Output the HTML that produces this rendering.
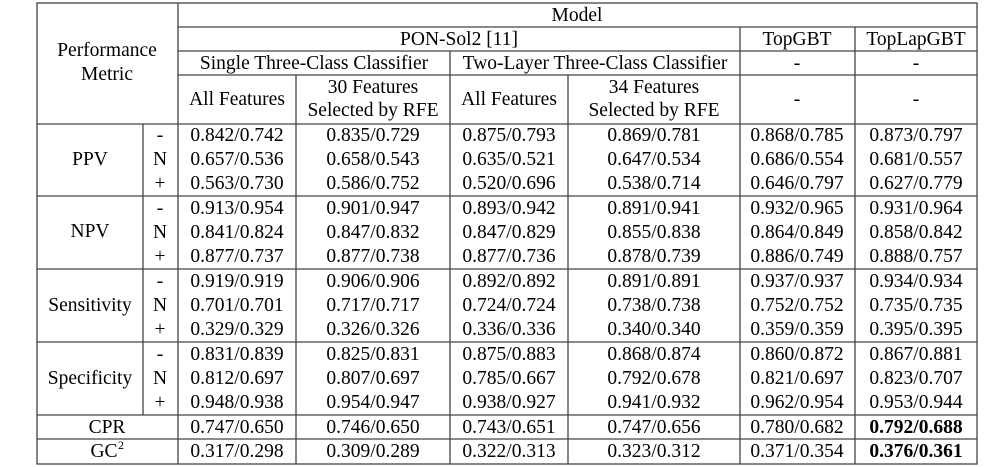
<!DOCTYPE html>
<html><head><meta charset="utf-8"><style>
html,body{margin:0;padding:0;background:#fff;width:1006px;height:467px;overflow:hidden}
svg{display:block}
</style></head><body>
<svg width="1006" height="467" viewBox="0 0 1006 467" xmlns="http://www.w3.org/2000/svg">
<g stroke="#444" stroke-width="1.3" fill="none">
<rect x="37" y="3" width="940" height="461"/>
<line x1="178" y1="27" x2="977" y2="27"/>
<line x1="178" y1="51" x2="977" y2="51"/>
<line x1="178" y1="75" x2="977" y2="75"/>
<line x1="37" y1="124" x2="977" y2="124"/>
<line x1="37" y1="196" x2="977" y2="196"/>
<line x1="37" y1="269" x2="977" y2="269"/>
<line x1="37" y1="342" x2="977" y2="342"/>
<line x1="37" y1="415" x2="977" y2="415"/>
<line x1="37" y1="439" x2="977" y2="439"/>
<line x1="178" y1="3" x2="178" y2="464"/>
<line x1="143" y1="124" x2="143" y2="415"/>
<line x1="296" y1="75" x2="296" y2="464"/>
<line x1="450" y1="51" x2="450" y2="464"/>
<line x1="568" y1="75" x2="568" y2="464"/>
<line x1="740" y1="27" x2="740" y2="464"/>
<line x1="855" y1="27" x2="855" y2="464"/>
</g>
<g text-anchor="middle" font-family="'Liberation Serif','DejaVu Serif',serif" font-size="19.5" fill="#000">
<g transform="translate(0,6)">
<text x="577" y="15">Model</text>
<text x="107" y="50">Performance</text>
<text x="107" y="74">Metric</text>
<text x="459" y="39">PON-Sol2 [11]</text>
<text x="797" y="39">TopGBT</text>
<text x="916" y="39">TopLapGBT</text>
<text x="314" y="63">Single Three-Class Classifier</text>
<text x="595" y="63">Two-Layer Three-Class Classifier</text>
<text x="797" y="63">-</text>
<text x="916" y="63">-</text>
<text x="237" y="99">All Features</text>
<text x="373" y="87">30 Features</text>
<text x="373" y="110">Selected by RFE</text>
<text x="509" y="99">All Features</text>
<text x="654" y="87">34 Features</text>
<text x="654" y="110">Selected by RFE</text>
<text x="797" y="99">-</text>
<text x="916" y="99">-</text>

<text x="90" y="159">PPV</text>
<text x="90" y="231">NPV</text>
<text x="90" y="305">Sensitivity</text>
<text x="90" y="378">Specificity</text>
<text x="107" y="427">CPR</text>
<text x="104" y="451">GC</text>
<text x="121" y="443" font-size="12">2</text>

<text x="160" y="135">-</text><text x="160" y="159">N</text><text x="160" y="183">+</text>
<text x="160" y="208">-</text><text x="160" y="232">N</text><text x="160" y="256">+</text>
<text x="160" y="281">-</text><text x="160" y="305">N</text><text x="160" y="329">+</text>
<text x="160" y="354">-</text><text x="160" y="378">N</text><text x="160" y="402">+</text>

<text x="237" y="135">0.842/0.742</text><text x="373" y="135">0.835/0.729</text><text x="509" y="135">0.875/0.793</text><text x="654" y="135">0.869/0.781</text><text x="797" y="135">0.868/0.785</text><text x="916" y="135">0.873/0.797</text>
<text x="237" y="159">0.657/0.536</text><text x="373" y="159">0.658/0.543</text><text x="509" y="159">0.635/0.521</text><text x="654" y="159">0.647/0.534</text><text x="797" y="159">0.686/0.554</text><text x="916" y="159">0.681/0.557</text>
<text x="237" y="183">0.563/0.730</text><text x="373" y="183">0.586/0.752</text><text x="509" y="183">0.520/0.696</text><text x="654" y="183">0.538/0.714</text><text x="797" y="183">0.646/0.797</text><text x="916" y="183">0.627/0.779</text>

<text x="237" y="208">0.913/0.954</text><text x="373" y="208">0.901/0.947</text><text x="509" y="208">0.893/0.942</text><text x="654" y="208">0.891/0.941</text><text x="797" y="208">0.932/0.965</text><text x="916" y="208">0.931/0.964</text>
<text x="237" y="232">0.841/0.824</text><text x="373" y="232">0.847/0.832</text><text x="509" y="232">0.847/0.829</text><text x="654" y="232">0.855/0.838</text><text x="797" y="232">0.864/0.849</text><text x="916" y="232">0.858/0.842</text>
<text x="237" y="256">0.877/0.737</text><text x="373" y="256">0.877/0.738</text><text x="509" y="256">0.877/0.736</text><text x="654" y="256">0.878/0.739</text><text x="797" y="256">0.886/0.749</text><text x="916" y="256">0.888/0.757</text>

<text x="237" y="281">0.919/0.919</text><text x="373" y="281">0.906/0.906</text><text x="509" y="281">0.892/0.892</text><text x="654" y="281">0.891/0.891</text><text x="797" y="281">0.937/0.937</text><text x="916" y="281">0.934/0.934</text>
<text x="237" y="305">0.701/0.701</text><text x="373" y="305">0.717/0.717</text><text x="509" y="305">0.724/0.724</text><text x="654" y="305">0.738/0.738</text><text x="797" y="305">0.752/0.752</text><text x="916" y="305">0.735/0.735</text>
<text x="237" y="329">0.329/0.329</text><text x="373" y="329">0.326/0.326</text><text x="509" y="329">0.336/0.336</text><text x="654" y="329">0.340/0.340</text><text x="797" y="329">0.359/0.359</text><text x="916" y="329">0.395/0.395</text>

<text x="237" y="354">0.831/0.839</text><text x="373" y="354">0.825/0.831</text><text x="509" y="354">0.875/0.883</text><text x="654" y="354">0.868/0.874</text><text x="797" y="354">0.860/0.872</text><text x="916" y="354">0.867/0.881</text>
<text x="237" y="378">0.812/0.697</text><text x="373" y="378">0.807/0.697</text><text x="509" y="378">0.785/0.667</text><text x="654" y="378">0.792/0.678</text><text x="797" y="378">0.821/0.697</text><text x="916" y="378">0.823/0.707</text>
<text x="237" y="402">0.948/0.938</text><text x="373" y="402">0.954/0.947</text><text x="509" y="402">0.938/0.927</text><text x="654" y="402">0.941/0.932</text><text x="797" y="402">0.962/0.954</text><text x="916" y="402">0.953/0.944</text>

<text x="237" y="427">0.747/0.650</text><text x="373" y="427">0.746/0.650</text><text x="509" y="427">0.743/0.651</text><text x="654" y="427">0.747/0.656</text><text x="797" y="427">0.780/0.682</text><text x="916" y="427" font-weight="bold">0.792/0.688</text>
<text x="237" y="451">0.317/0.298</text><text x="373" y="451">0.309/0.289</text><text x="509" y="451">0.322/0.313</text><text x="654" y="451">0.323/0.312</text><text x="797" y="451">0.371/0.354</text><text x="916" y="451" font-weight="bold">0.376/0.361</text>
</g>
</g>
</svg>
</body></html>
